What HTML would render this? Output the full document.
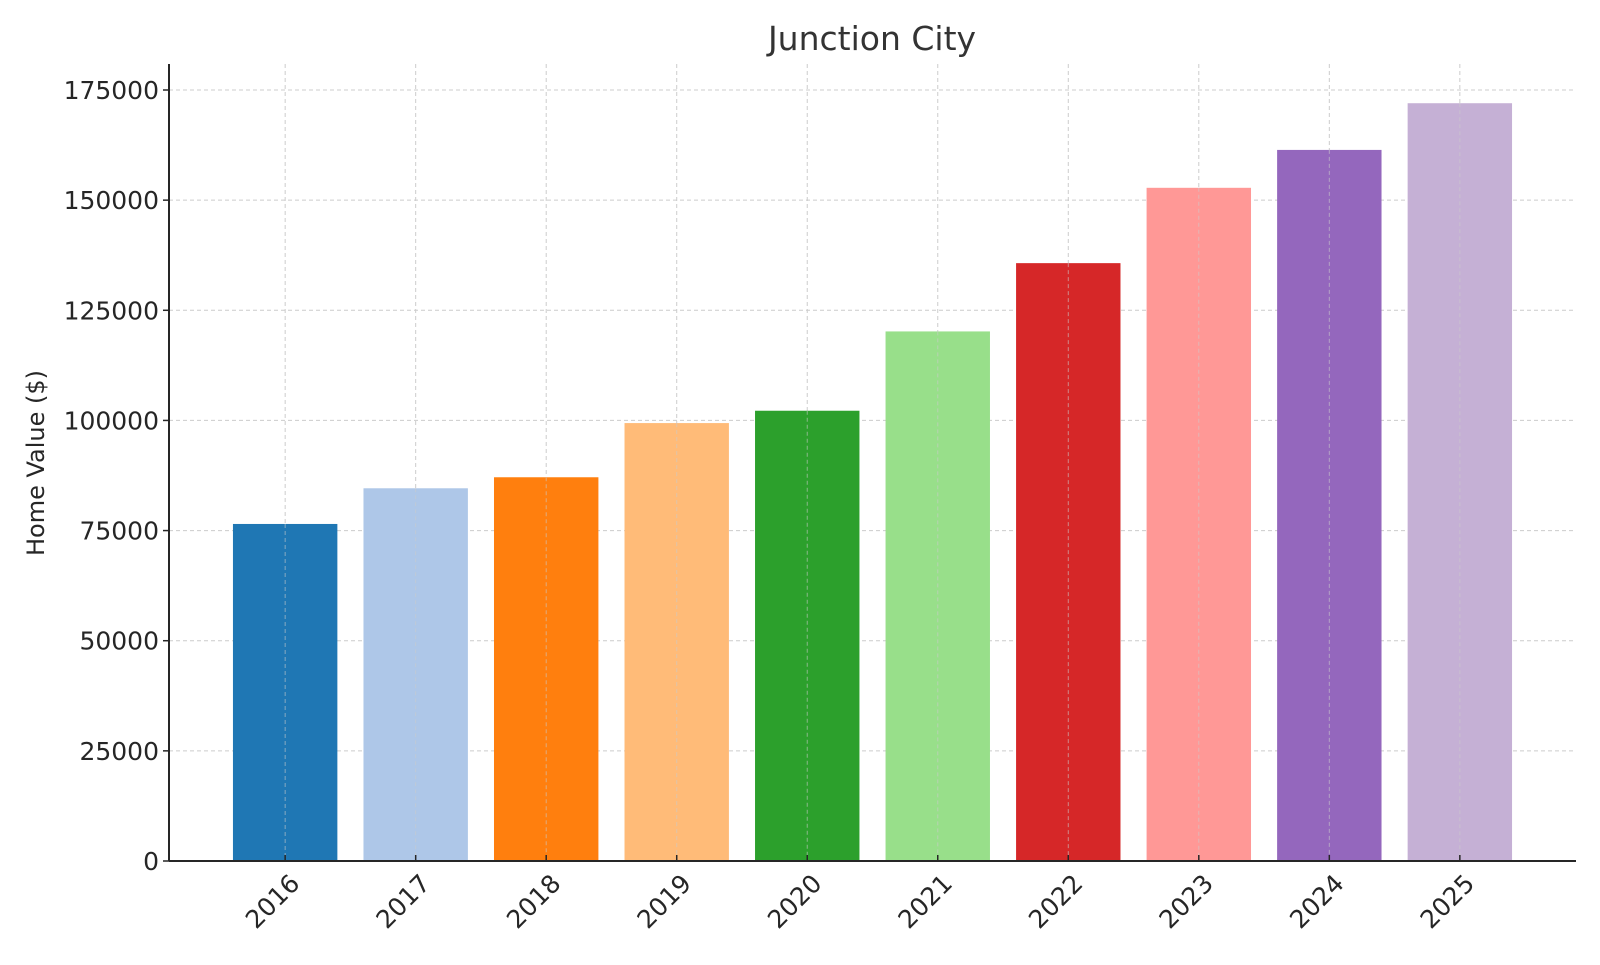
<!DOCTYPE html>
<html><head><meta charset="utf-8"><style>
body{margin:0;background:#fff}
text{font-family:"DejaVu Sans","Liberation Sans",sans-serif;fill:#262626}
</style></head><body>
<svg id="chart" width="1600" height="960" viewBox="0 0 1600 960" xmlns="http://www.w3.org/2000/svg">
<text x="872" y="50" font-size="33" text-anchor="middle" style="fill:#333">Junction City</text>
<text transform="translate(44,463) rotate(-90)" font-size="24" text-anchor="middle">Home Value ($)</text>
<g id="grid"></g>
<g id="bars"></g>
<g id="axes"></g>
</svg>
<script>
const categories = ["2016","2017","2018","2019","2020","2021","2022","2023","2024","2025"];
const values = [76500,84600,87100,99400,102200,120200,135700,152800,161400,172000];
const colors = ["#1f77b4","#aec7e8","#ff7f0e","#ffbb78","#2ca02c","#98df8a","#d62728","#ff9896","#9467bd","#c5b0d5"];
const yTicks = [0,25000,50000,75000,100000,125000,150000,175000];
const NS="http://www.w3.org/2000/svg";
const L=169,R=1576,B=861,T=64;
const xMin=-0.89,xMax=categories.length-1+0.89;
const x=i=>L+(i-xMin)/(xMax-xMin)*(R-L);
const y=v=>B-v*771/175000;
const bw=0.8*(R-L)/(xMax-xMin);
function mk(tag,attrs,parent){const e=document.createElementNS(NS,tag);for(const k in attrs)e.setAttribute(k,attrs[k]);parent.appendChild(e);return e;}
const grid=document.getElementById('grid'),bars=document.getElementById('bars'),axes=document.getElementById('axes');
yTicks.forEach(v=>{
  const g=mk('line',{x1:L,x2:R,y1:y(v),y2:y(v),stroke:'#cccccc','stroke-width':1,'stroke-dasharray':'4,3'},grid);
  
  
  const t=mk('line',{x1:L-6,x2:L,y1:y(v),y2:y(v),stroke:'#262626','stroke-width':1.5},axes);
  
  
  const lb=mk('text',{x:L-10,y:y(v)+9,'font-size':25,'text-anchor':'end'},axes);
  lb.textContent=v;
  
  
});
categories.forEach((c,i)=>{
  const g=mk('line',{x1:x(i),x2:x(i),y1:T,y2:B,stroke:'#cccccc','stroke-width':1,'stroke-dasharray':'4,3'},grid);
  
  
  const r=mk('rect',{x:x(i)-bw/2,y:y(values[i]),width:bw,height:B-y(values[i]),fill:colors[i]},bars);
  
  
  const g2=mk('line',{x1:x(i),x2:x(i),y1:y(values[i]),y2:B,stroke:'#cccccc','stroke-width':1,'stroke-dasharray':'4,3','stroke-opacity':0.6},bars);
  
  
  const t=mk('line',{x1:x(i),x2:x(i),y1:B-6,y2:B,stroke:'#262626','stroke-width':1.5},axes);
  
  
  const lb=mk('text',{transform:`translate(${x(i)+16},${B+24}) rotate(-45)`,'font-size':25,'text-anchor':'end'},axes);
  lb.textContent=c;
  
  
});
const ax1=mk('line',{x1:L,x2:L,y1:T,y2:B,stroke:'#262626','stroke-width':2},axes);


const ax2=mk('line',{x1:L,x2:R,y1:B,y2:B,stroke:'#262626','stroke-width':2},axes);


</script>
</body></html>
